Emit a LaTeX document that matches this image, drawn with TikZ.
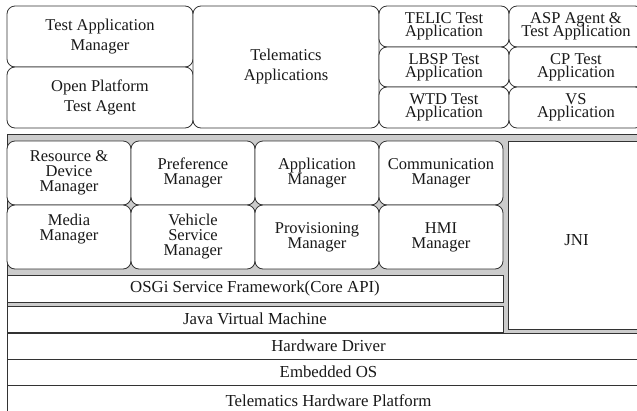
\documentclass[tikz,border=0pt]{standalone}
\usepackage{fontspec}
\setmainfont{Liberation Serif}

% box from (x1,y1) to (x2,y2), y counted downwards
\newcommand{\blk}[7][]{%
  \node[#1, minimum width={(#5-#3)*1pt}, minimum height={(#6-#4)*1pt}]
    (#2) at ({(#3+#5)/2},{(#4+#6)/2}) {#7};}

\tikzset{
  frame/.style={draw=black!80, line width=0.8pt, inner sep=0pt, align=center, text=black!90},
  bigapp/.style={frame, fill=white, rounded corners=8pt,
    font={\fontsize{16.5}{20}\selectfont}},
  smallapp/.style={frame, fill=white, rounded corners=8pt,
    font={\fontsize{16.5}{13.3}\selectfont\lineskiplimit=-20pt}},
  mgr/.style={frame, fill=white, rounded corners=8pt,
    font={\fontsize{16.5}{15}\selectfont\lineskiplimit=-20pt}},
  layerbox/.style={frame, fill=white, font={\fontsize{16.8}{18}\selectfont}},
  panel/.style={frame, fill=gray!40}
}

\begin{document}
\begin{tikzpicture}[x=1pt, y=-1pt]
  \useasboundingbox (0,0) rectangle (637,410);
  % applications
  \blk[bigapp]{tam}{7}{6}{193}{67}{Test Application\\Manager}
  \blk[bigapp]{opta}{7}{67}{193}{128}{Open Platform\\Test Agent}
  \blk[bigapp]{tapps}{193}{6}{379}{128}{Telematics\\Applications}
  \blk[smallapp]{telic}{379}{6}{509}{47}{TELIC Test\\Application}
  \blk[smallapp]{lbsp}{379}{47}{509}{87}{LBSP Test\\Application}
  \blk[smallapp]{wtd}{379}{87}{509}{128}{WTD Test\\Application}
  \blk[smallapp]{asp}{509}{6}{643}{47}{ASP Agent \&\\Test Application}
  \blk[smallapp]{cp}{509}{47}{643}{87}{CP Test\\Application}
  \blk[smallapp]{vs}{509}{87}{643}{128}{VS\\Application}
  % middleware
  \blk[panel]{mware}{7}{134}{650}{333}{}
  \blk[mgr]{rdm}{7}{141}{131}{205}{Resource \&\\Device\\Manager}
  \blk[mgr]{prefm}{131}{141}{255}{205}{Preference\\Manager}
  \blk[mgr]{appm}{255}{141}{379}{205}{Application\\Manager}
  \blk[mgr]{comm}{379}{141}{503}{205}{Communication\\Manager}
  \blk[mgr]{media}{7}{205}{131}{269}{Media\\Manager\\[4pt]}
  \blk[mgr]{vsm}{131}{205}{255}{269}{Vehicle\\Service\\Manager}
  \blk[mgr]{provm}{255}{205}{379}{269}{Provisioning\\Manager}
  \blk[mgr]{hmi}{379}{205}{503}{269}{HMI\\Manager}
  \blk[layerbox]{jni}{508}{141}{645}{339}{JNI}
  \fill[gray!40] (508.4,329.4) rectangle (645,332.6);
  \draw[draw=black!80, line width=0.8pt] (508,329) -- (645,329);
  \blk[layerbox]{osgi}{7}{275}{503}{302}{OSGi Service Framework(Core API)}
  \blk[layerbox]{jvm}{7}{306}{503}{332}{Java Virtual Machine}
  % platform
  \blk[layerbox]{hwd}{7}{333}{650}{359}{Hardware Driver}
  \blk[layerbox]{eos}{7}{359}{650}{385}{Embedded OS}
  \blk[layerbox]{thp}{7}{385}{650}{416}{Telematics Hardware Platform}
\end{tikzpicture}
\end{document}
